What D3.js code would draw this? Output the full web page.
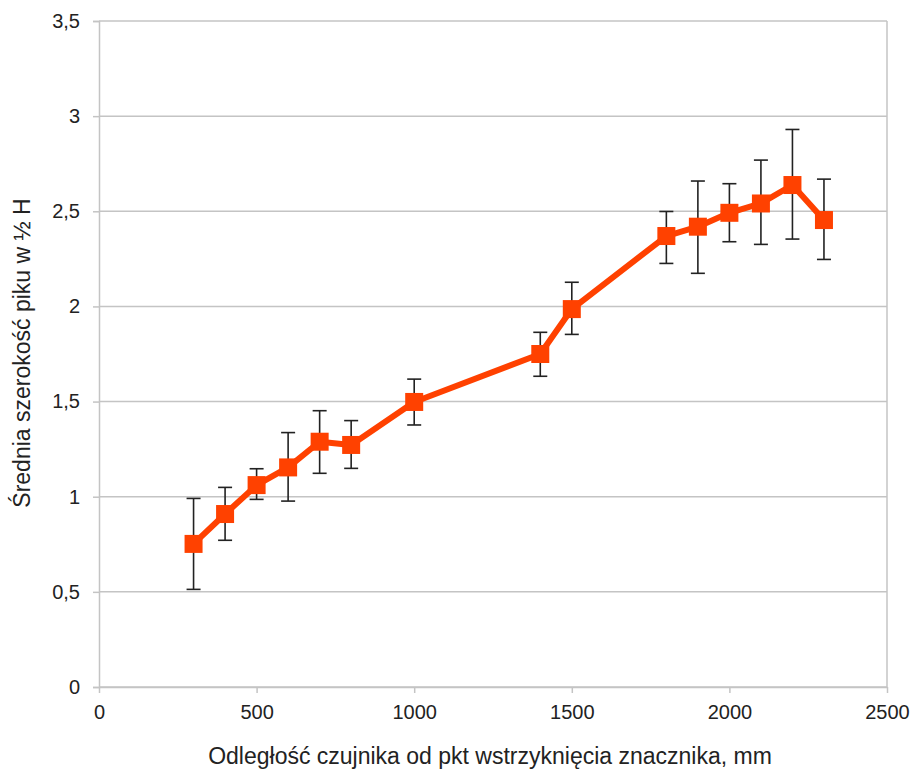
<!DOCTYPE html>
<html>
<head>
<meta charset="utf-8">
<script src="https://cdn.jsdelivr.net/npm/d3@7"></script>
<style>
  body { margin: 0; background: #fff; }
  text { font-family: "Liberation Sans", Arial, sans-serif; fill: #222; }
</style>
</head>
<body>
<div id="chart"></div>
<script>
// data
distance = [300, 400, 500, 600, 700, 800, 1000, 1400, 1500, 1800, 1900, 2000, 2100, 2200, 2300];
width50 = [0.752, 0.909, 1.061, 1.154, 1.289, 1.272, 1.498, 1.750, 1.986, 2.370, 2.419, 2.492, 2.541, 2.638, 2.454];
errUp = [0.239, 0.140, 0.086, 0.183, 0.163, 0.128, 0.120, 0.114, 0.141, 0.129, 0.240, 0.153, 0.228, 0.292, 0.215];
errDown = [0.239, 0.138, 0.075, 0.177, 0.166, 0.123, 0.121, 0.117, 0.133, 0.144, 0.245, 0.152, 0.215, 0.284, 0.207];
xTicks = [0, 500, 1000, 1500, 2000, 2500];
yTicks = [0, 0.5, 1, 1.5, 2, 2.5, 3, 3.5];

data = distance.map((d, i) => ({
  x: d, y: width50[i], hi: width50[i] + errUp[i], lo: width50[i] - errDown[i]
}));

width = 916;
height = 772;
margin = { top: 21, right: 29, bottom: 85, left: 99 };

x = d3.scaleLinear().domain([0, 2500]).range([margin.left, width - margin.right]);
y = d3.scaleLinear().domain([0, 3.5]).range([height - margin.bottom, margin.top]);

fmt = (d) => String(d).replace('.', ',');

var svg = d3.select('#chart').append('svg')
  .attr('width', width)
  .attr('height', height);

// gridlines
svg.append('g')
  .selectAll('line')
  .data(yTicks)
  .join('line')
  .attr('x1', x(0)).attr('x2', x(2500))
  .attr('y1', (d) => y(d)).attr('y2', (d) => y(d))
  .attr('stroke', '#c4c4c4')
  .attr('stroke-width', 1.5);

// right border
svg.append('line')
  .attr('x1', x(2500)).attr('x2', x(2500))
  .attr('y1', y(3.5)).attr('y2', y(0))
  .attr('stroke', '#c4c4c4').attr('stroke-width', 1.5);

// y axis
yAxis = svg.append('g')
  .attr('transform', `translate(${margin.left},0)`)
  .call(d3.axisLeft(y).tickValues(yTicks).tickFormat(fmt).tickSize(6).tickPadding(13));
yAxis.select('.domain').attr('stroke', '#c4c4c4').attr('stroke-width', 1.5);
yAxis.selectAll('.tick line').attr('stroke', '#c4c4c4').attr('stroke-width', 1.5);
yAxis.selectAll('.tick text').attr('font-size', 20).attr('fill', '#2a2a2a')
  .attr('font-family', '"Liberation Sans", Arial, sans-serif');

// x axis
xAxis = svg.append('g')
  .attr('transform', `translate(0,${height - margin.bottom})`)
  .call(d3.axisBottom(x).tickValues(xTicks).tickFormat(d3.format('d')).tickSize(6).tickPadding(12).tickSizeOuter(0));
xAxis.select('.domain').attr('stroke', '#c4c4c4').attr('stroke-width', 1.5);
xAxis.selectAll('.tick line').attr('stroke', '#c4c4c4').attr('stroke-width', 1.5);
xAxis.selectAll('.tick text').attr('font-size', 20).attr('fill', '#2a2a2a')
  .attr('font-family', '"Liberation Sans", Arial, sans-serif');

// error bars
eb = svg.append('g').attr('stroke', '#222').attr('stroke-width', 1.6);
eb.selectAll('.v').data(data).join('line')
  .attr('x1', (d) => x(d.x)).attr('x2', (d) => x(d.x))
  .attr('y1', (d) => y(d.hi)).attr('y2', (d) => y(d.lo));
eb.selectAll('.t').data(data).join('line')
  .attr('x1', (d) => x(d.x) - 7).attr('x2', (d) => x(d.x) + 7)
  .attr('y1', (d) => y(d.hi)).attr('y2', (d) => y(d.hi));
eb.selectAll('.b').data(data).join('line')
  .attr('x1', (d) => x(d.x) - 7).attr('x2', (d) => x(d.x) + 7)
  .attr('y1', (d) => y(d.lo)).attr('y2', (d) => y(d.lo));

// line
line = d3.line().x((d) => x(d.x)).y((d) => y(d.y));
svg.append('path')
  .datum(data)
  .attr('d', line)
  .attr('fill', 'none')
  .attr('stroke', '#ff4100')
  .attr('stroke-width', 6)
  .attr('stroke-linejoin', 'round');

// markers
svg.append('g').selectAll('rect').data(data).join('rect')
  .attr('x', (d) => x(d.x) - 9)
  .attr('y', (d) => y(d.y) - 9)
  .attr('width', 18).attr('height', 18)
  .attr('fill', '#ff4100');

// axis titles
svg.append('text')
  .attr('x', 490).attr('y', 764)
  .attr('text-anchor', 'middle')
  .attr('font-size', 23)
  .text('Odległość czujnika od pkt wstrzyknięcia znacznika, mm');

svg.append('text')
  .attr('transform', 'translate(30,353) rotate(-90)')
  .attr('text-anchor', 'middle')
  .attr('font-size', 23)
  .text('Średnia szerokość piku w ½ H');
</script>
</body>
</html>
